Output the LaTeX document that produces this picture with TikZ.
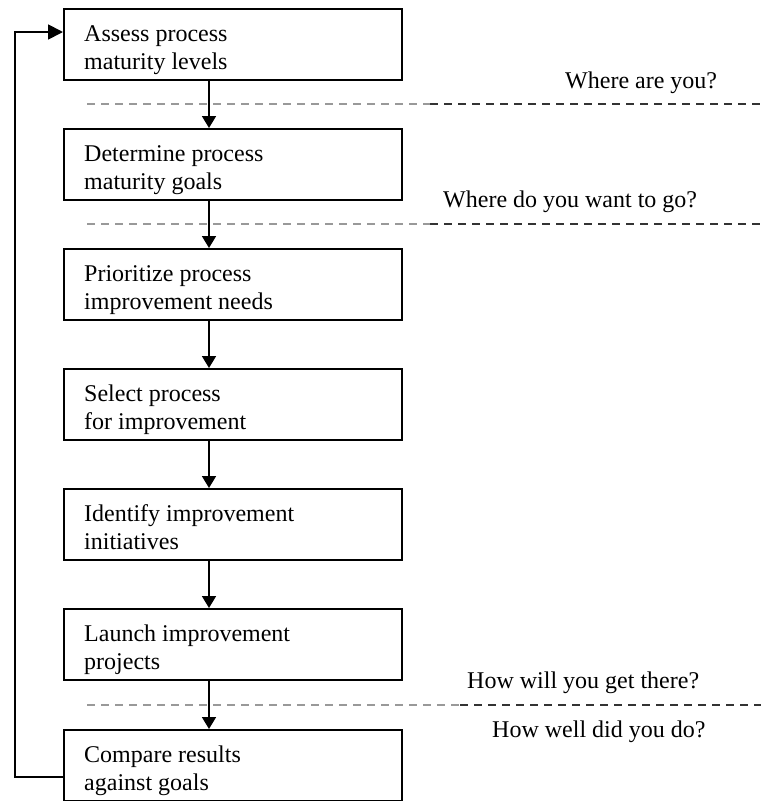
\documentclass[tikz,border=0pt]{standalone}
\usepackage{fontspec}
\setmainfont{Liberation Serif}
\usetikzlibrary{arrows.meta}
\begin{document}
\begin{tikzpicture}[x=1pt,y=-1pt,
  stepbox/.style={draw, line width=1.8pt, minimum width=338pt, minimum height=71pt,
    inner sep=0pt, anchor=north west},
  steptext/.style={anchor=base west, align=left, inner sep=0pt,
    font=\fontsize{24}{28}\selectfont},
  question/.style={anchor=base west, inner sep=0pt, font=\fontsize{24}{28}\selectfont},
  flow/.style={line width=1.8pt, -{Triangle[length=12pt,width=14pt]}},
  loopflow/.style={line width=1.8pt, -{Triangle[length=15pt,width=15pt]}},
  sepline/.style={dash pattern=on 8pt off 6pt, line width=1.8pt}]
\useasboundingbox (0,0) rectangle (761,801);

% phase separators
\foreach \y/\m in {104/430, 224/430, 705/460}{
  \coordinate (sa) at (87,\y);
  \coordinate (sm) at (\m,\y);
  \coordinate (sb) at (761,\y);
  \draw[sepline, black!40] (sa) -- (sm);
  \draw[sepline, black!80] (sm) -- (sb);
}

% process steps
\node[stepbox] (b1) at (63,8)   {};
\node[stepbox] (b2) at (63,128) {};
\node[stepbox] (b3) at (63,248) {};
\node[stepbox] (b4) at (63,368) {};
\node[stepbox] (b5) at (63,488) {};
\node[stepbox] (b6) at (63,608) {};
\node[stepbox] (b7) at (63,729) {};

% step labels (anchored on the baseline of the second line)
\node[steptext] (t1) at (84,69)  {Assess process\\maturity levels};
\node[steptext] (t2) at (84,189) {Determine process\\maturity goals};
\node[steptext] (t3) at (84,309) {Prioritize process\\improvement needs};
\node[steptext] (t4) at (84,429) {Select process\\for improvement};
\node[steptext] (t5) at (84,549) {Identify improvement\\initiatives};
\node[steptext] (t6) at (84,669) {Launch improvement\\projects};
\node[steptext] (t7) at (84,790) {Compare results\\against goals};

% questions
\node[question] (q1) at (565,88)  {Where are you?};
\node[question] (q2) at (443,207) {Where do you want to go?};
\node[question] (q3) at (467,688) {How will you get there?};
\node[question] (q4) at (492,737) {How well did you do?};

% flow between steps
\coordinate (ax) at (209,0);
\foreach \a/\b in {b1/b2, b2/b3, b3/b4, b4/b5, b5/b6, b6/b7}{
  \draw[flow] (\a.south -| ax) -- (\b.north -| ax);
}

% feedback loop
\coordinate (lb) at (15,777);
\coordinate (lt) at (15,32);
\draw[loopflow] (b7.west |- lb) -- (lb) -- (lt) -- (b1.west |- lt);
\end{tikzpicture}
\end{document}
